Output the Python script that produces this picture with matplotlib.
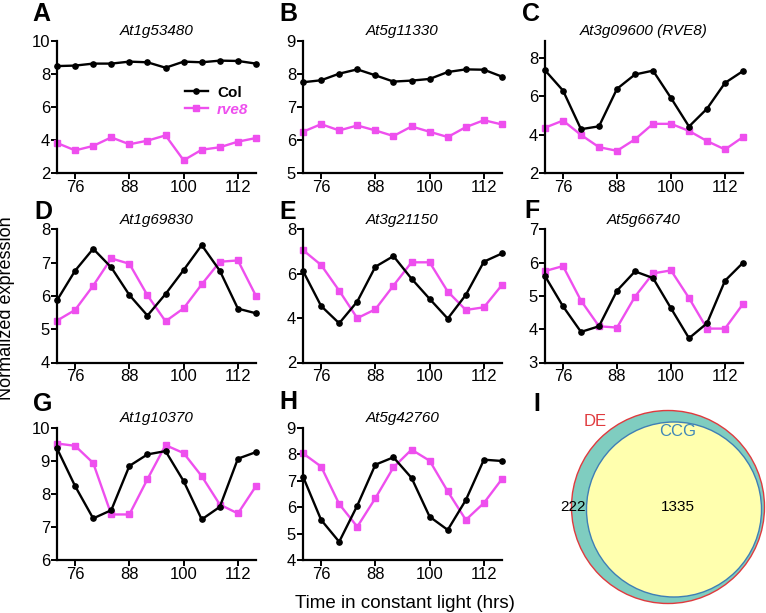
import matplotlib
matplotlib.use("Agg")
import matplotlib.pyplot as plt
from matplotlib.patches import Circle

plt.rcParams["font.family"] = ["Liberation Sans", "DejaVu Sans"]

# time in constant light (hrs)
hours = [72, 76, 80, 84, 88, 92, 96, 100, 104, 108, 112, 116]

genes = ["At1g53480", "At5g11330", "At3g09600 (RVE8)", "At1g69830",
         "At3g21150", "At5g66740", "At1g10370", "At5g42760"]
letters = ["A", "B", "C", "D", "E", "F", "G", "H"]

col_A = [8.48, 8.51, 8.63, 8.63, 8.75, 8.71, 8.38, 8.75, 8.71, 8.81, 8.79, 8.63]
rve8_A = [3.82, 3.37, 3.64, 4.16, 3.74, 3.96, 4.28, 2.77, 3.41, 3.56, 3.90, 4.12]
col_B = [7.75, 7.81, 8.01, 8.14, 7.96, 7.77, 7.80, 7.85, 8.06, 8.14, 8.13, 7.92]
rve8_B = [6.25, 6.48, 6.29, 6.44, 6.29, 6.12, 6.41, 6.25, 6.09, 6.39, 6.60, 6.47]
col_C = [7.37, 6.31, 4.29, 4.44, 6.40, 7.15, 7.35, 5.92, 4.43, 5.36, 6.71, 7.33]
rve8_C = [4.37, 4.74, 3.99, 3.35, 3.16, 3.76, 4.57, 4.57, 4.20, 3.67, 3.23, 3.88]
col_D = [5.87, 6.76, 7.42, 6.86, 6.03, 5.41, 6.06, 6.78, 7.53, 6.76, 5.62, 5.48]
rve8_D = [5.26, 5.58, 6.31, 7.13, 6.97, 6.02, 5.24, 5.63, 6.35, 7.03, 7.07, 6.00]
col_E = [6.13, 4.55, 3.77, 4.75, 6.32, 6.80, 5.78, 4.87, 3.98, 5.05, 6.55, 6.92]
rve8_E = [7.07, 6.40, 5.24, 4.00, 4.40, 5.47, 6.52, 6.52, 5.20, 4.37, 4.49, 5.50]
col_F = [5.60, 4.69, 3.92, 4.09, 5.16, 5.74, 5.54, 4.63, 3.73, 4.18, 5.46, 6.00]
rve8_F = [5.75, 5.90, 4.86, 4.09, 4.05, 4.98, 5.68, 5.77, 4.94, 4.02, 4.02, 4.76]
col_G = [9.38, 8.24, 7.26, 7.51, 8.85, 9.20, 9.30, 8.39, 7.23, 7.61, 9.07, 9.27]
rve8_G = [9.53, 9.46, 8.94, 7.38, 7.38, 8.45, 9.48, 9.24, 8.54, 7.68, 7.41, 8.24]
col_H = [7.16, 5.52, 4.69, 6.06, 7.61, 7.89, 7.11, 5.64, 5.14, 6.27, 7.80, 7.75]
rve8_H = [8.04, 7.54, 6.12, 5.26, 6.34, 7.51, 8.18, 7.76, 6.60, 5.52, 6.16, 7.07]

col_series = [col_A, col_B, col_C, col_D, col_E, col_F, col_G, col_H]
rve8_series = [rve8_A, rve8_B, rve8_C, rve8_D, rve8_E, rve8_F, rve8_G, rve8_H]

y_ranges = [(2, 10), (5, 9), (2, 8.9), (4, 8), (2, 8), (3, 7), (6, 10), (4, 9)]
y_ticks = [[2, 4, 6, 8, 10], [5, 6, 7, 8, 9], [2, 4, 6, 8], [4, 5, 6, 7, 8],
           [2, 4, 6, 8], [3, 4, 5, 6, 7], [6, 7, 8, 9, 10], [4, 5, 6, 7, 8, 9]]
x_ticks = [76, 88, 100, 112]

# venn counts
de_only = 222
de_and_ccg = 1335

W, H = 766, 613
MAGENTA = "#EE4FEE"

fig = plt.figure(figsize=(W / 100, H / 100), dpi=100)


def px_axes(x0, y0, x1, y1):
    # pixel box (top-left origin) -> figure axes
    return fig.add_axes([x0 / W, 1 - y1 / H, (x1 - x0) / W, (y1 - y0) / H])


col_x = [(57, 256), (303, 502), (545, 743)]
row_y = [(41, 173), (229.5, 362.5), (428, 560)]

for i in range(8):
    r, c = divmod(i, 3)
    ax = px_axes(col_x[c][0], row_y[r][0], col_x[c][1], row_y[r][1])
    ax.plot(hours, col_series[i], color="black", lw=1.7, marker="o", ms=3.8,
            label="Col", clip_on=False, zorder=3)
    ax.plot(hours, rve8_series[i], color=MAGENTA, lw=1.7, marker="s", ms=4,
            label="rve8", clip_on=False, zorder=2)
    ax.set_xlim(72, 116)
    ax.set_ylim(*y_ranges[i])
    ax.set_xticks(x_ticks)
    ax.set_yticks(y_ticks[i])
    for s in ["top", "right"]:
        ax.spines[s].set_visible(False)
    for s in ["left", "bottom"]:
        ax.spines[s].set_linewidth(1.6)
    ax.tick_params(direction="out", length=4, width=1.4, labelsize=12, pad=1)
    ax.set_title(genes[i], fontsize=11, style="italic", pad=4)

    if i == 0:
        leg = ax.legend(loc="upper right", bbox_to_anchor=(1.0, 0.72), frameon=False,
                        handlelength=1.5, handletextpad=0.6, labelspacing=0.2,
                        borderpad=0, prop={"weight": "bold", "size": 11})
        for t, h in zip(leg.get_texts(), leg.get_lines()):
            t.set_color(h.get_color())
        leg.get_texts()[1].set_style("italic")

# panel letters
letter_pos = [(41, 14), (288, 14), (531, 14), (43, 212), (288, 212), (532, 211),
              (43, 404), (288, 402), (537, 404)]
for (lx, ly), lab in zip(letter_pos, letters + ["I"]):
    fig.text(lx / W, 1 - ly / H, lab, fontsize=18, fontweight="bold",
             ha="center", va="center")

# venn diagram, drawn in pixel coordinates
vax = px_axes(545, 400, 766, 613)
vax.set_xlim(545, 766)
vax.set_ylim(613, 400)
vax.set_aspect("equal")
vax.axis("off")
vax.add_patch(Circle((668, 507), 96.5, facecolor="#7FCDC0", edgecolor="#E03A3E", lw=1.0))
vax.add_patch(Circle((674, 509.5), 87.5, facecolor="#FFFFAE", edgecolor="#3F7FB5", lw=1.0))
vax.text(595, 422, "DE", color="#E03A3E", fontsize=12, ha="center", va="center")
vax.text(678, 432, "CCG", color="#3F87B8", fontsize=12, ha="center", va="center")
vax.text(573, 507, str(de_only), fontsize=11, ha="center", va="center")
vax.text(678, 507, str(de_and_ccg), fontsize=11, ha="center", va="center")

fig.text(7 / W, 1 - 308 / H, "Normalized expression", rotation=90, fontsize=13,
         ha="center", va="center")
fig.text(405 / W, 1 - 603 / H, "Time in constant light (hrs)", fontsize=13.5,
         ha="center", va="center")

fig.savefig("out.png", dpi=100)
